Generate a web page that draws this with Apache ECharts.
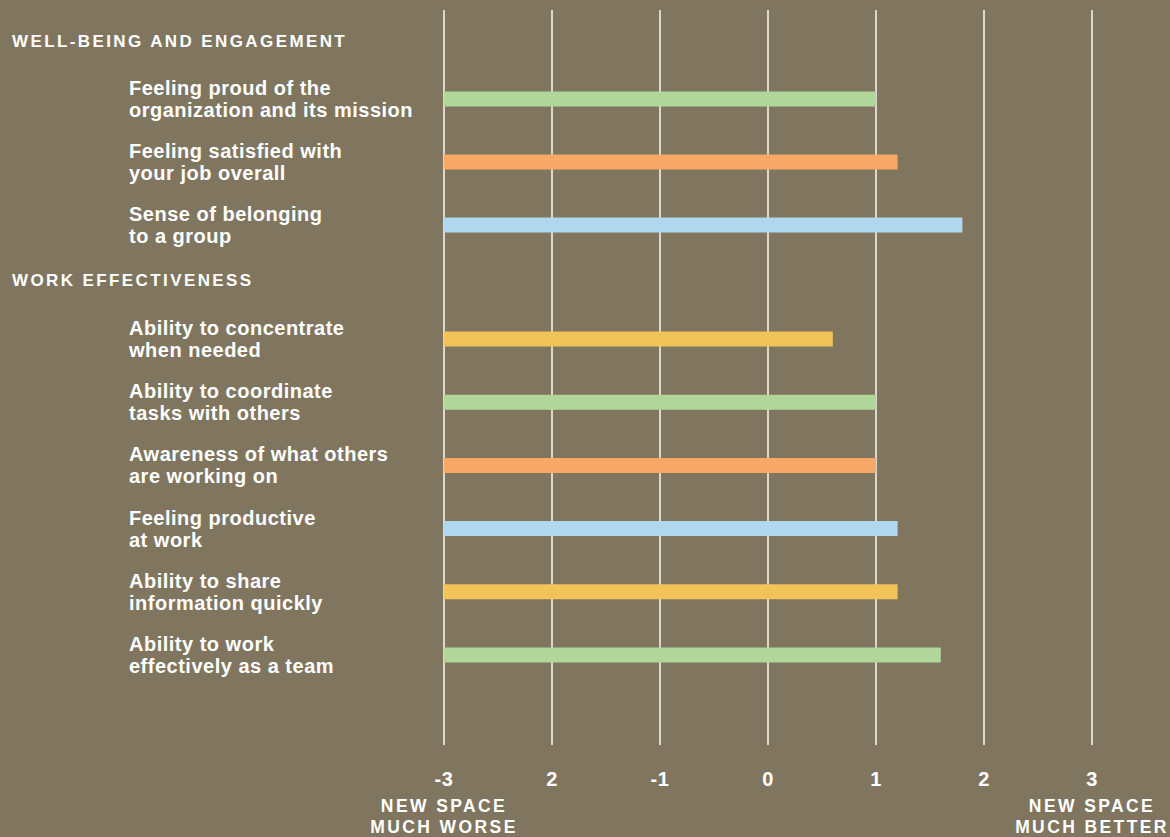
<!DOCTYPE html>
<html>
<head>
<meta charset="utf-8">
<script src="https://cdn.jsdelivr.net/npm/echarts@6/dist/echarts.min.js"></script>
<style>
  html, body { margin: 0; padding: 0; background: #80765f; }
  #chart { width: 1170px; height: 837px; }
  /* tracking like the printed original */
  #chart text[style*=" 17px"], #chart text[font-size="17"] { letter-spacing: 2.4px; }
  #chart text[style*="17.5px"], #chart text[font-size="17.5"] { letter-spacing: 2.4px; }
  #chart text[style*=" 20px"], #chart text[font-size="20"] { letter-spacing: 0.5px; }
</style>
</head>
<body>
<div id="chart"></div>
<script>
// section 1: header row first, then items
var wellbeingLabels = [
  'WELL-BEING AND ENGAGEMENT',
  'Feeling proud of the\norganization and its mission',
  'Feeling satisfied with\nyour job overall',
  'Sense of belonging\nto a group'
];
var wellbeingValues = [null, 1, 1.2, 1.8];
var wellbeingColors = [null, '#b0d799', '#f8a866', '#b1d7ef'];

// section 2
var workLabels = [
  'WORK EFFECTIVENESS',
  'Ability to concentrate\nwhen needed',
  'Ability to coordinate\ntasks with others',
  'Awareness of what others\nare working on',
  'Feeling productive\nat work',
  'Ability to share\ninformation quickly',
  'Ability to work\neffectively as a team'
];
var workValues = [null, 0.6, 1, 1, 1.2, 1.2, 1.6];
var workColors = [null, '#f1c358', '#b0d799', '#f8a866', '#b1d7ef', '#f1c358', '#b0d799'];

var headers = ['WELL-BEING AND ENGAGEMENT', 'WORK EFFECTIVENESS'];
var tickLabels = { '-3': '-3', '-2': '2', '-1': '-1', '0': '0', '1': '1', '2': '2', '3': '3' };
var endNotes = { '-3': ['NEW SPACE', 'MUCH WORSE'], '3': ['NEW SPACE', 'MUCH BETTER'] };
var axisMin = -3, axisMax = 3;

var chart = echarts.init(document.getElementById('chart'), null, { renderer: 'svg' });

function labelFormatter(val) {
  if (headers.indexOf(val) >= 0) return '{h|' + val + '}';
  return val.split('\n').map(function (l) { return '{t|' + l + '}'; }).join('\n');
}
var labelRich = {
  h: { color: '#fff', fontFamily: 'Liberation Sans', fontWeight: 'bold', fontSize: 17, lineHeight: 22, padding: [10, 0, 0, 0] },
  t: { color: '#fff', fontFamily: 'Liberation Sans', fontWeight: 'bold', fontSize: 20, lineHeight: 22, padding: [0, 0, 0, 117] }
};

function hiddenX(gridIndex) {
  return { type: 'value', gridIndex: gridIndex, min: axisMin, max: axisMax, interval: 1, show: false };
}
function sectionY(gridIndex, labels) {
  return {
    type: 'category', gridIndex: gridIndex, inverse: true, data: labels,
    axisLine: { show: false }, axisTick: { show: false }, splitLine: { show: false },
    axisLabel: { interval: 0, margin: 432, align: 'left', formatter: labelFormatter, rich: labelRich }
  };
}
function sectionSeries(idx, values, colors) {
  return {
    type: 'custom',
    xAxisIndex: idx,
    yAxisIndex: idx,
    data: values.map(function (v, i) { return [v, i]; }),
    encode: { x: 0, y: 1 },
    renderItem: function (params, api) {
      var v = api.value(0);
      if (v === null || isNaN(v)) return;
      var cat = api.value(1);
      var start = api.coord([axisMin, cat]);
      var end = api.coord([v, cat]);
      var h = 15;
      return {
        type: 'rect',
        shape: { x: start[0], y: start[1] - h / 2, width: end[0] - start[0], height: h },
        style: { fill: colors[params.dataIndex] }
      };
    }
  };
}

var option = {
  backgroundColor: '#80765f',
  animation: false,
  grid: [
    { left: 444, right: 78, top: 10, bottom: 92 },     // frame: grid lines + x labels
    { left: 444, right: 78, top: 4.5, height: 252 },   // well-being rows
    { left: 444, right: 78, top: 244.2, height: 442.4 } // work rows
  ],
  xAxis: [{
    type: 'value',
    gridIndex: 0,
    min: axisMin,
    max: axisMax,
    interval: 1,
    axisLine: { show: false },
    axisTick: { show: false },
    splitLine: { show: true, lineStyle: { color: '#dcd7cc', width: 2 } },
    axisLabel: {
      margin: 17,
      showMinLabel: true,
      showMaxLabel: true,
      formatter: function (val) {
        var key = String(val);
        var s = '{v|' + tickLabels[key] + '}';
        if (endNotes[key]) {
          s += '\n{s|' + endNotes[key][0] + '}\n{s|' + endNotes[key][1] + '}';
        }
        return s;
      },
      rich: {
        v: { color: '#fff', fontFamily: 'Liberation Sans', fontWeight: 'bold', fontSize: 20, lineHeight: 33, align: 'center' },
        s: { color: '#fff', fontFamily: 'Liberation Sans', fontWeight: 'bold', fontSize: 17.5, lineHeight: 21, align: 'center' }
      }
    }
  }, hiddenX(1), hiddenX(2)],
  yAxis: [
    { type: 'value', gridIndex: 0, show: false },
    sectionY(1, wellbeingLabels),
    sectionY(2, workLabels)
  ],
  series: [
    sectionSeries(1, wellbeingValues, wellbeingColors),
    sectionSeries(2, workValues, workColors)
  ]
};

chart.setOption(option);
</script>
</body>
</html>
